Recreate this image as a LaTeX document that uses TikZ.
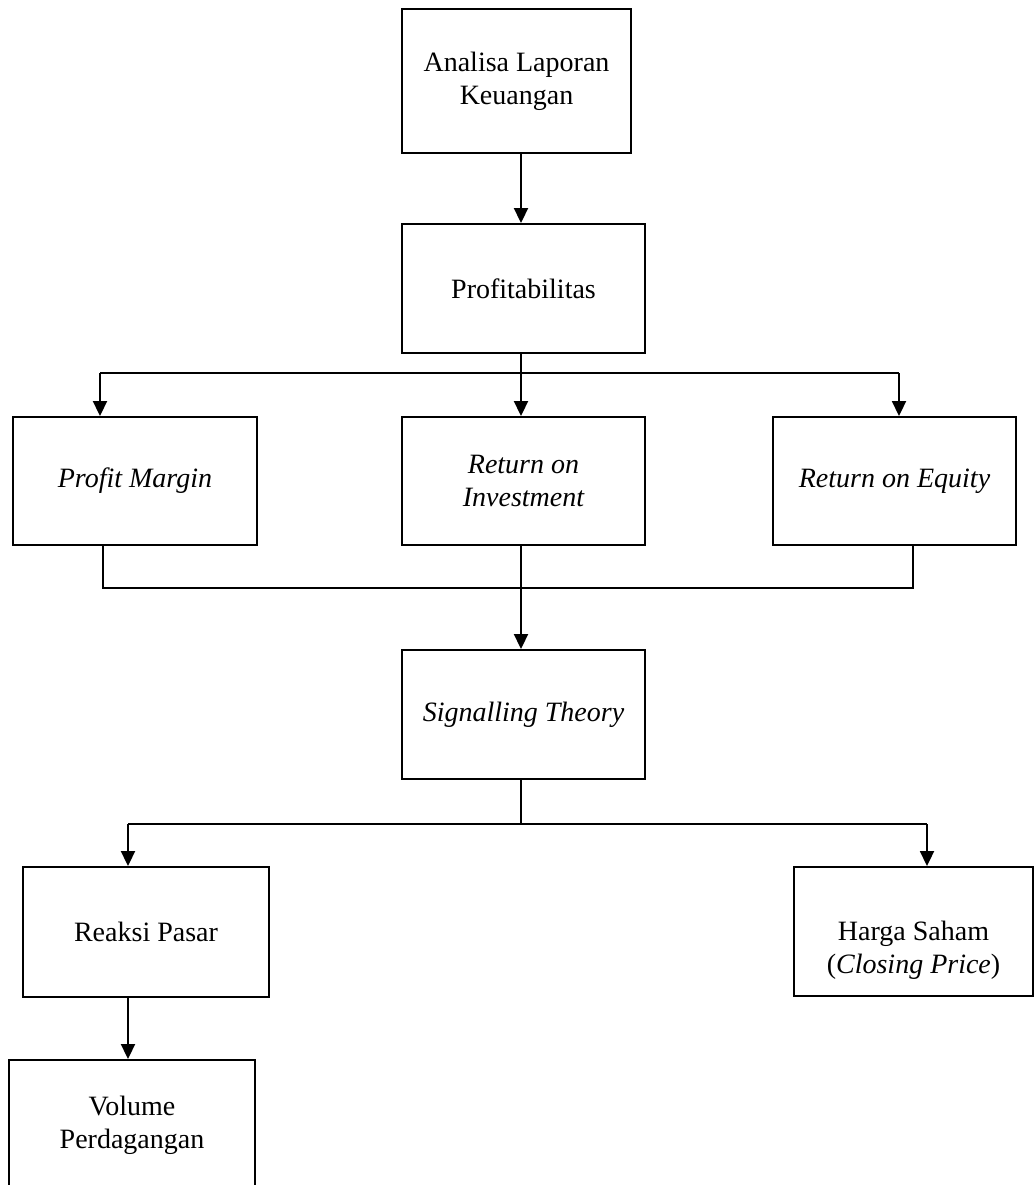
\documentclass[tikz,border=0pt]{standalone}
\usepackage{fontspec}
\setmainfont{Liberation Serif}
\usetikzlibrary{arrows.meta}
\begin{document}
\begin{tikzpicture}[x=1pt,y=-1pt,
  box/.style={draw, line width=1.9pt, align=center, inner sep=0pt, font=\fontsize{28}{33}\selectfont},
  txt/.style={align=center, inner sep=0pt, font=\fontsize{28}{33}\selectfont},
  link/.style={line width=1.9pt},
  arr/.style={link, -{Triangle[width=14pt,length=15pt]}}]
\useasboundingbox (0,0) rectangle (1035,1185);
% boxes
\node[box, minimum width=229pt, minimum height=144pt] (A) at (516.5,81) {Analisa Laporan\\Keuangan};
\node[box, minimum width=243pt, minimum height=129pt] (P) at (523.5,288.5) {Profitabilitas};
\node[box, minimum width=244pt, minimum height=128pt] (PM) at (135,481) {\itshape Profit Margin};
\node[box, minimum width=243pt, minimum height=128pt] (ROI) at (523.5,481) {\itshape Return on\\\itshape Investment};
\node[box, minimum width=243pt, minimum height=128pt] (ROE) at (894.5,481) {\itshape Return on Equity};
\node[box, minimum width=243pt, minimum height=129pt] (ST) at (523.5,714.5) {\itshape Signalling Theory};
\node[box, minimum width=246pt, minimum height=130pt] (RP) at (146,932) {Reaksi Pasar};
\node[box, minimum width=239pt, minimum height=129pt] (HS) at (913.5,931.5) {};
\node[txt] (HSt) at (913.5,950) {Harga Saham\\(\textit{Closing Price})};
\node[box, minimum width=246pt, minimum height=130pt] (VP) at (132,1125) {Volume\\Perdagangan};
% junction coordinates
\coordinate (j1) at (521,373);
\coordinate (j1L) at (100,373);
\coordinate (j1R) at (899,373);
\coordinate (m1) at (521,588);
\coordinate (m1L) at (103,588);
\coordinate (m1R) at (913,588);
\coordinate (j2) at (521,824);
\coordinate (j2L) at (128,824);
\coordinate (j2R) at (927,824);
% connectors
\draw[arr] (A.south -| j1) -- (P.north -| j1);
\draw[link] (P.south -| j1) -- (j1);
\draw[link] (j1L) -- (j1R);
\draw[arr] (j1L) -- (PM.north -| j1L);
\draw[arr] (j1) -- (ROI.north -| j1);
\draw[arr] (j1R) -- (ROE.north -| j1R);
\draw[link] (PM.south -| m1L) -- (m1L) -- (m1R) -- (ROE.south -| m1R);
\draw[arr] (ROI.south -| m1) -- (ST.north -| m1);
\draw[link] (ST.south -| j2) -- (j2);
\draw[link] (j2L) -- (j2R);
\draw[arr] (j2L) -- (RP.north -| j2L);
\draw[arr] (j2R) -- (HS.north -| j2R);
\draw[arr] (RP.south -| j2L) -- (VP.north -| j2L);
\end{tikzpicture}
\end{document}
